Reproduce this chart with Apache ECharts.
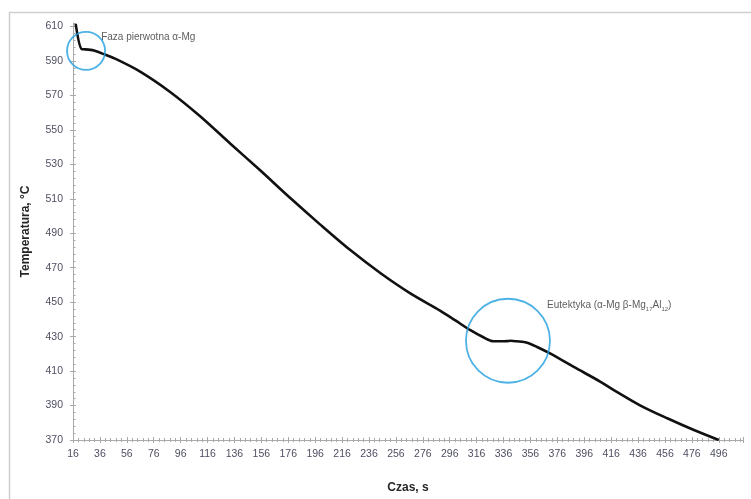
<!DOCTYPE html>
<html>
<head>
<meta charset="utf-8">
<script src="https://cdn.jsdelivr.net/npm/echarts@6/dist/echarts.min.js"></script>
<style>
  html, body { margin: 0; padding: 0; background: #ffffff; }
  #chart { width: 751px; height: 499px; }
</style>
</head>
<body>
<div id="chart"></div>
<script>
// Cooling curve of the alloy: time (s) and temperature (°C)
const timeS = [18, 22.5, 25, 29, 31.5, 38.3, 47.3, 65.9, 88.2, 110.5, 132.8, 155.1, 177.5, 199.8,
  222.1, 244.4, 266.7, 289.1, 300.2, 311.4, 320.3, 328.5, 333.7, 338.7, 341.2, 345.6, 353.6,
  361, 370.9, 388.2, 408.1, 418, 437.8, 457.7, 477.5, 496];
const tempC = [611.5, 596.8, 596.7, 596.4, 596.0, 594.1, 591.3, 583.8, 572.0, 557.9, 542.1, 526.5, 510.4, 495.0,
  480.2, 466.9, 455.1, 445.0, 439.4, 433.7, 429.9, 427.3, 427.3, 427.4, 427.6, 427.3, 426.5,
  424.0, 420.1, 412.4, 403.8, 399.0, 390.0, 382.6, 375.8, 370.0];

// Axis ranges
const xMin = 16, xMax = 514, xStep = 20;
const yMin = 370, yMax = 612, yStep = 20;

// Phase transformation markers
const markerTimes = [25.7, 339.3];
const markerTemps = [595.8, 427.6];
const markerNames = ['Faza pierwotna α-Mg', '{t|Eutektyka (α-Mg β-Mg}{s|17}{t|Al}{s|12}{t|)}'];

const axisGray = '#a9a9a9';
const labelColor = '#4f4f63';
const font = 'Liberation Sans, Arial, sans-serif';

function baseAxis(extra) {
  return Object.assign({
    type: 'value',
    splitLine: { show: false },
    axisLine: { show: true, lineStyle: { color: axisGray, width: 1 } },
  }, extra);
}

const chart = echarts.init(document.getElementById('chart'), null, { renderer: 'canvas' });

chart.setOption({
  animation: false,
  backgroundColor: '#ffffff',
  textStyle: { fontFamily: font },
  graphic: [{
    type: 'rect',
    silent: true,
    z: -10,
    shape: { x: 9.5, y: 12.5, width: 800, height: 600 },
    style: { fill: 'none', stroke: '#cfcfcf', lineWidth: 1.5 }
  }],
  grid: { left: 73, right: 8, top: 23, bottom: 57.3, containLabel: false },
  xAxis: [
    baseAxis({
      min: xMin, max: xMax, interval: xStep, position: 'bottom',
      axisTick: { show: true, length: 3, lineStyle: { color: axisGray } },
      minorTick: { show: true, splitNumber: 5, length: 2, lineStyle: { color: axisGray } },
      axisLabel: { color: labelColor, fontSize: 10.5, margin: 9, showMaxLabel: false, fontFamily: font },
      name: 'Czas, s', nameLocation: 'middle', nameGap: 42,
      nameTextStyle: { fontWeight: 'bold', fontSize: 12, color: '#262626', fontFamily: font }
    }),
    baseAxis({
      min: xMin, max: xMax, interval: xStep, position: 'bottom',
      axisLine: { show: false },
      axisTick: { show: true, inside: true, length: 3, lineStyle: { color: axisGray } },
      minorTick: { show: true, splitNumber: 5, length: 2, lineStyle: { color: axisGray } },
      axisLabel: { show: false }
    })
  ],
  yAxis: [
    baseAxis({
      min: yMin, max: yMax, interval: yStep, position: 'left',
      axisTick: { show: true, length: 3, lineStyle: { color: axisGray } },
      minorTick: { show: false },
      axisLabel: { color: labelColor, fontSize: 10.5, margin: 10, showMaxLabel: false, fontFamily: font },
      name: 'Temperatura, °C', nameLocation: 'middle', nameGap: 41, nameRotate: 90,
      nameTextStyle: { fontWeight: 'bold', fontSize: 12, color: '#262626', fontFamily: font }
    }),
    baseAxis({
      min: yMin, max: yMax, interval: yStep, position: 'left',
      axisLine: { show: false },
      axisTick: { show: true, inside: true, length: 3, lineStyle: { color: axisGray } },
      minorTick: { show: true, splitNumber: 5, length: 2.5, lineStyle: { color: axisGray } },
      axisLabel: { show: false }
    })
  ],
  series: [
    {
      type: 'line',
      data: timeS.map((t, i) => [t, tempC[i]]),
      showSymbol: false,
      smooth: 0.3,
      lineStyle: { color: '#111111', width: 2.6 },
      emphasis: { disabled: true },
      z: 2
    },
    {
      type: 'scatter',
      symbol: 'circle',
      itemStyle: { color: 'rgba(0,0,0,0)', borderColor: '#1f9fe0', borderWidth: 1.8 },
      emphasis: { disabled: true },
      z: 3,
      data: [
        {
          value: [markerTimes[0], markerTemps[0]],
          symbolSize: 38,
          label: {
            show: true, position: [35, 1], formatter: markerNames[0],
            color: '#333333', fontSize: 10, fontFamily: font
          }
        },
        {
          value: [markerTimes[1], markerTemps[1]],
          symbolSize: 84,
          label: {
            show: true, position: [82, 1], formatter: markerNames[1],
            rich: {
              t: { color: '#333333', fontSize: 10, lineHeight: 13, fontFamily: font },
              s: { color: '#333333', fontSize: 6, lineHeight: 7, verticalAlign: 'bottom', fontFamily: font }
            }
          }
        }
      ]
    }
  ]
});
</script>
</body>
</html>
